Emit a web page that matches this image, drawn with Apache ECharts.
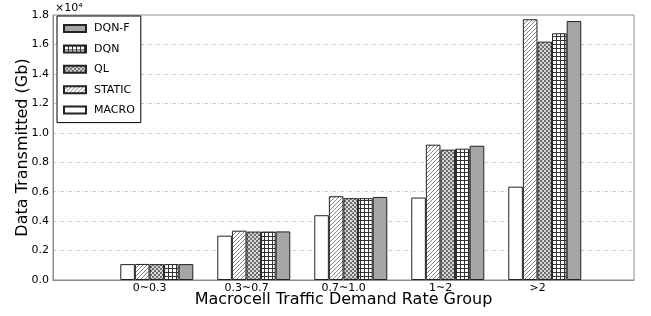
<!DOCTYPE html>
<html>
<head>
<meta charset="utf-8">
<script src="https://cdn.jsdelivr.net/npm/echarts@6/dist/echarts.min.js"></script>
<style>html,body{margin:0;padding:0;background:#fff}#c{width:651px;height:316px}</style>
</head>
<body>
<div id="c"></div>
<script>
// ---- data (values in Gb) ----
var categories = ['0~0.3', '0.3~0.7', '0.7~1.0', '1~2', '>2'];
var macro  = [1080, 3010, 4400, 5600, 6340];
var stat   = [1090, 3350, 5690, 9190, 17710];
var ql     = [1080, 3290, 5560, 8850, 16190];
var dqn    = [1080, 3290, 5560, 8920, 16760];
var dqnf   = [1080, 3300, 5640, 9120, 17590];
var seriesNames = ['MACRO', 'STATIC', 'QL', 'DQN', 'DQN-F'];
var legendOrder = ['DQN-F', 'DQN', 'QL', 'STATIC', 'MACRO'];

// ---- patterns ----
function mk(size, draw) {
  var c = document.createElement('canvas');
  c.width = size; c.height = size;
  var g = c.getContext('2d');
  g.fillStyle = '#fff'; g.fillRect(0, 0, size, size);
  draw(g, size);
  return { image: c, repeat: 'repeat' };
}
var diag = mk(4, function (g, s) {
  g.strokeStyle = '#777'; g.lineWidth = 0.9;
  for (var o = -s; o <= s; o += s) {
    g.beginPath(); g.moveTo(o, s); g.lineTo(o + s, 0); g.stroke();
  }
});
var checker = mk(4, function (g, s) {
  g.fillStyle = '#6e6e6e';
  g.fillRect(0, 0, 2, 2); g.fillRect(2, 2, 2, 2);
  g.fillStyle = '#d8d8d8';
  g.fillRect(2, 0, 2, 2); g.fillRect(0, 2, 2, 2);
});
var grid4 = mk(4, function (g, s) {
  g.fillStyle = '#333';
  g.fillRect(0, 0, s, 1); g.fillRect(0, 0, 1, s);
});
var fills = ['#ffffff', diag, checker, grid4, '#a6a6a6'];
var values = [macro, stat, ql, dqn, dqnf];

var series = seriesNames.map(function (n, k) {
  return {
    name: n, type: 'bar', barWidth: 14.6, barGap: '0%',
    itemStyle: { color: fills[k], borderColor: '#222', borderWidth: 1 },
    data: values[k].map(function (v, i) { return [i, v]; })
  };
});

var chart = echarts.init(document.getElementById('c'), null, { renderer: 'canvas' });
chart.setOption({
  animation: false,
  textStyle: { fontFamily: 'DejaVu Sans' },
  grid: { left: 53, right: 17, top: 15, bottom: 36, show: true, borderColor: '#8c8c8c', borderWidth: 1, backgroundColor: 'transparent' },
  legend: {
    data: legendOrder, orient: 'vertical', left: 57, top: 16,
    padding: [7, 6], itemWidth: 22, itemHeight: 7, itemGap: 9.4,
    borderColor: '#000', borderWidth: 1, backgroundColor: '#fff',
    icon: 'rect',
    textStyle: { fontSize: 11, color: '#000', fontFamily: 'DejaVu Sans', padding: [0, 0, 0, 3] }
  },
  xAxis: {
    type: 'value', min: -1.07, max: 4.92,
    name: 'Macrocell Traffic Demand Rate Group', nameLocation: 'middle', nameGap: 12, nameMoveOverlap: false,
    nameTextStyle: { fontSize: 16, color: '#000', fontFamily: 'DejaVu Sans' },
    axisLine: { onZero: false, lineStyle: { color: '#8c8c8c' } },
    axisTick: { show: false },
    splitLine: { show: false },
    axisLabel: {
      customValues: categories.map(function (c, i) { return i - 0.074; }),
      formatter: function (v) { return categories[Math.round(v)]; },
      fontSize: 11, color: '#000', margin: 3
    }
  },
  yAxis: {
    type: 'value', min: 0, max: 18000, interval: 2000,
    name: 'Data Transmitted (Gb)', nameLocation: 'middle', nameGap: 22, nameMoveOverlap: false,
    nameTextStyle: { fontSize: 16, color: '#000', fontFamily: 'DejaVu Sans' },
    axisLine: { show: true, onZero: false, lineStyle: { color: '#8c8c8c' } },
    axisTick: { show: false },
    axisLabel: { fontSize: 11, color: '#000', margin: 4, formatter: function (v) { return (v / 10000).toFixed(1); } },
    splitLine: { lineStyle: { color: '#c8c8c8', type: [3, 2, 1, 2], width: 1 } }
  },
  graphic: [{ type: 'text', left: 55, top: 3, style: { text: '×10⁴', fontSize: 11, fill: '#000', fontFamily: 'DejaVu Sans' } }],
  series: series
});
</script>
</body>
</html>
